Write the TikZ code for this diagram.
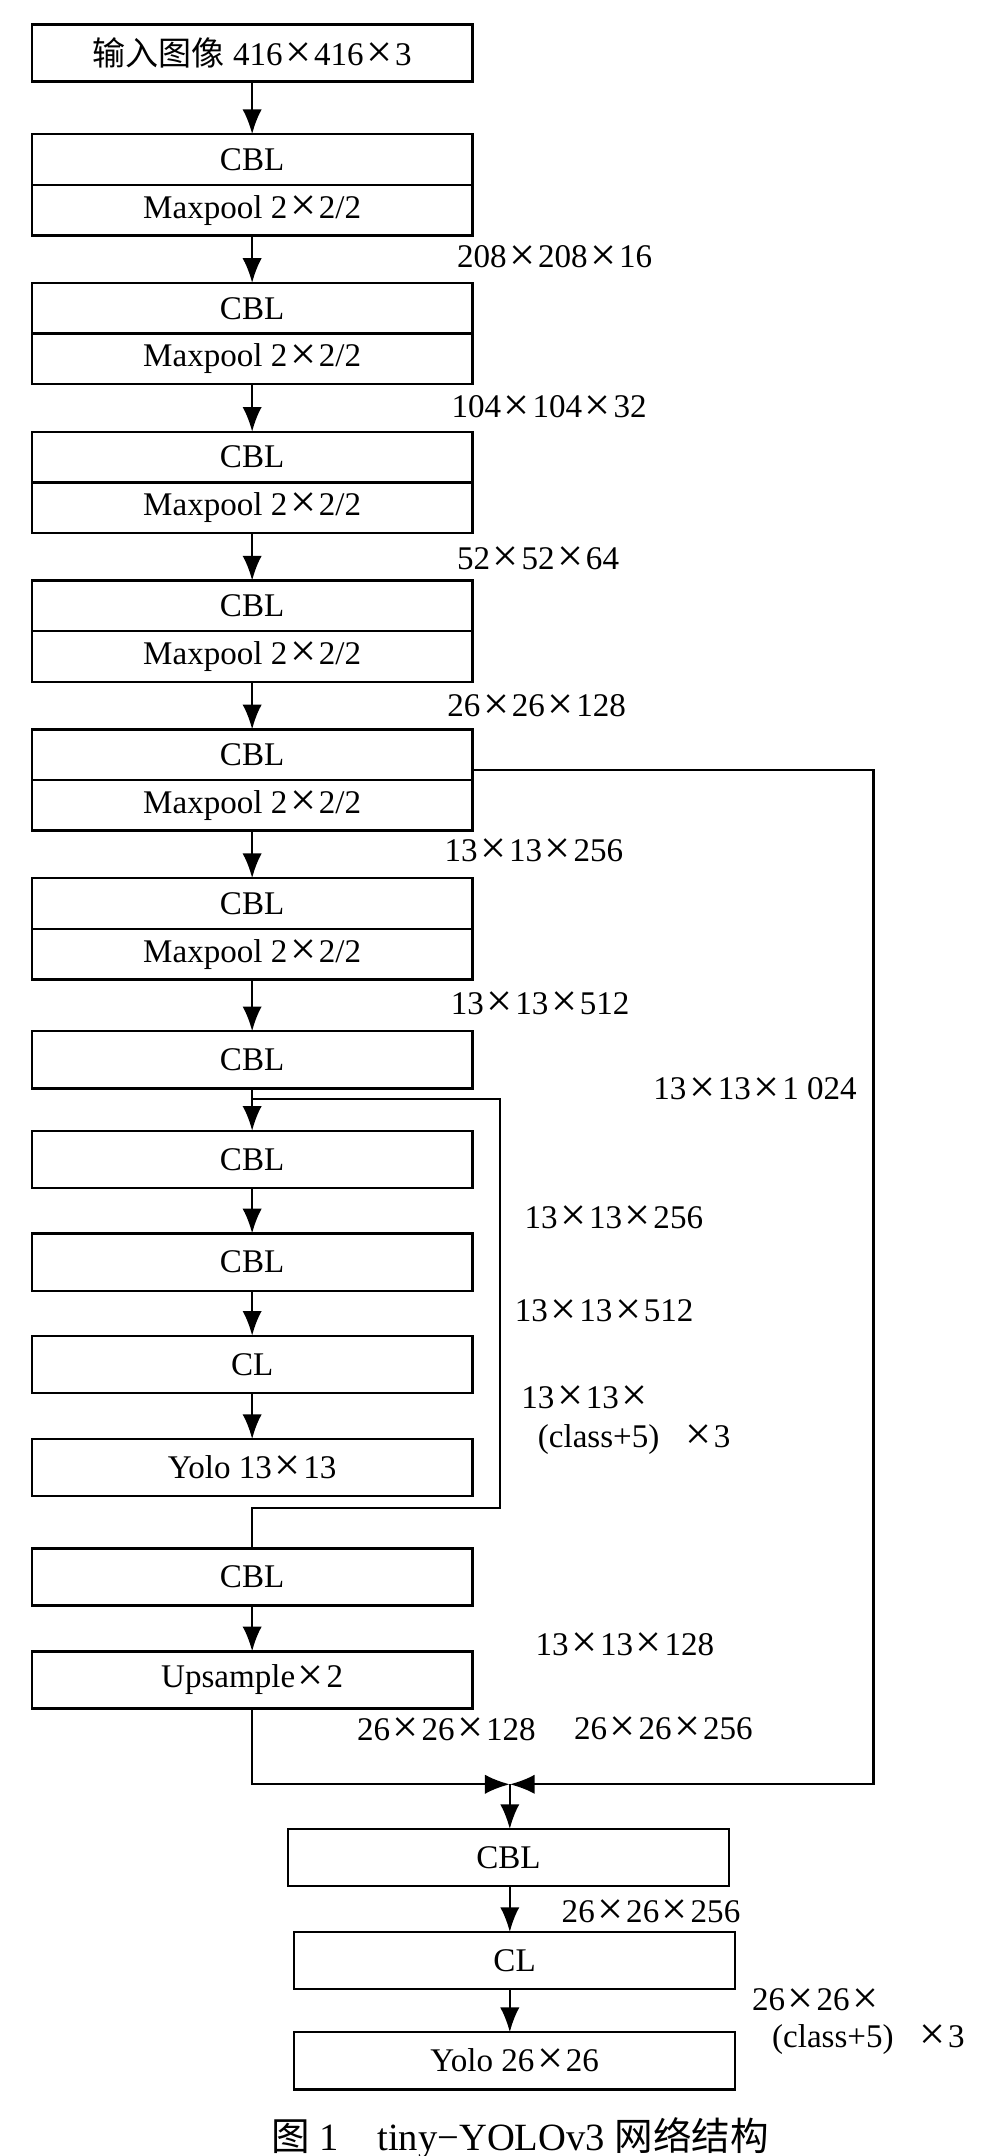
\documentclass[tikz,border=0pt]{standalone}
\usepackage{fontspec}
\setmainfont{Liberation Serif}
\newfontfamily\cjk{Noto Sans CJK SC}
\usetikzlibrary{arrows.meta,positioning}
\newcommand{\X}{\makebox[0.95em][c]{\raisebox{-0.07em}{\scalebox{1.4}{×}}}}
\tikzset{
	box/.style={draw, line width=0.85pt, outer sep=0pt, inner sep=0pt, minimum width=160pt, minimum height=20.75pt, font=\fontsize{12}{14}\selectfont},
	half/.style={box, minimum height=18.35pt},
	dim/.style={inner sep=0pt, font=\fontsize{12}{14}\selectfont},
	flow/.style={-{Latex[length=9pt,width=7pt]}, line width=0.85pt},
}
\begin{document}
\begin{tikzpicture}[x=0.5pt,y=-0.5pt]
		\useasboundingbox (0,0) rectangle (720,1564.8);
		% Bloecke
		\node[box] (in) at (183,38.5) {{\cjk 输入图像} 416\X416\X3};
		\foreach \i in {1,...,6} {
			\node[half] (c\i) at (183,{115.75+108*(\i-1)}) {CBL};
			\node[half, below=0pt of c\i] (m\i) {Maxpool 2\X2/2};
		}
		\node[box] (c7) at (183,769.25) {CBL};
		\node[box] (c8) at (183,841.5) {CBL};
		\node[box] (c9) at (183,916) {CBL};
		\node[box] (cl1) at (183,990.25) {CL};
		\node[box] (yolo1) at (183,1065.25) {Yolo 13\X13};
		\node[box] (c10) at (183,1144.5) {CBL};
		\node[box] (up) at (183,1219.3) {Upsample\X2};
		\node[box] (c11) at (369,1348.25) {CBL};
		\node[box] (cl2) at (373.5,1423) {CL};
		\node[box] (yolo2) at (373.5,1495.75) {Yolo 26\X26};
		% Pfeile
		\draw[flow] (in) -- (c1);
		\foreach \i [count=\j from 2] in {1,...,5} \draw[flow] (m\i) -- (c\j);
		\draw[flow] (m6) -- (c7);
		\draw[flow] (c7) -- (c8);
		\draw[flow] (c8) -- (c9);
		\draw[flow] (c9) -- (cl1);
		\draw[flow] (cl1) -- (yolo1);
		\draw[flow] (c10) -- (up);
		% Verzweigungen
		\coordinate (tap) at (343,559);
		\coordinate (rr) at (634,1295);
		\coordinate (join) at (370,1295);
		\coordinate (split) at (183,797.8);
		\coordinate (lp) at (363,1094.7);
		\draw[line width=0.85pt] (split) -| (lp) -| (c10.north);
		\draw[flow] (tap) -| (rr) -- (join);
		\draw[flow] (up) |- (join);
		\draw[flow] (join) -- (join |- c11.north);
		\draw[flow] (c11.south -| join) -- (join |- cl2.north);
		\draw[flow] (cl2.south -| join) -- (join |- yolo2.north);
		% Beschriftung
		\node[dim] (d1) at (402.5,187) {208\X208\X16};
		\node[dim] (d2) at (398.5,296) {104\X104\X32};
		\node[dim] (d3) at (390.5,406) {52\X52\X64};
		\node[dim] (d4) at (389.5,513) {26\X26\X128};
		\node[dim] (d5) at (387.5,618) {13\X13\X256};
		\node[dim] (d6) at (392,729) {13\X13\X512};
		\node[dim] (d7) at (548,791) {13\X13\X1\hspace{0.25em}024};
		\node[dim] (d8) at (445.5,884) {13\X13\X256};
		\node[dim] (d9) at (438.5,952) {13\X13\X512};
		\node[dim, anchor=west] (d10) at (378,1015) {13\X13\X};
		\node[dim, anchor=west] (d11) at (390,1044.5) {(class+5)\hspace{0.7em}\X3};
		\node[dim] (d12) at (453.5,1194) {13\X13\X128};
		\node[dim] (d13) at (324,1256) {26\X26\X128};
		\node[dim] (d14) at (481.5,1255) {26\X26\X256};
		\node[dim] (d15) at (472.5,1388) {26\X26\X256};
		\node[dim, anchor=west] (d16) at (545.5,1452) {26\X26\X};
		\node[dim, anchor=west] (d17) at (560,1480) {(class+5)\hspace{0.7em}\X3};
		\node[dim, font=\fontsize{14}{16}\selectfont] (cap) at (377.5,1552) {{\cjk 图}~1\hspace{1em}tiny−YOLOv3 {\cjk 网络结构}};
\end{tikzpicture}
\end{document}
